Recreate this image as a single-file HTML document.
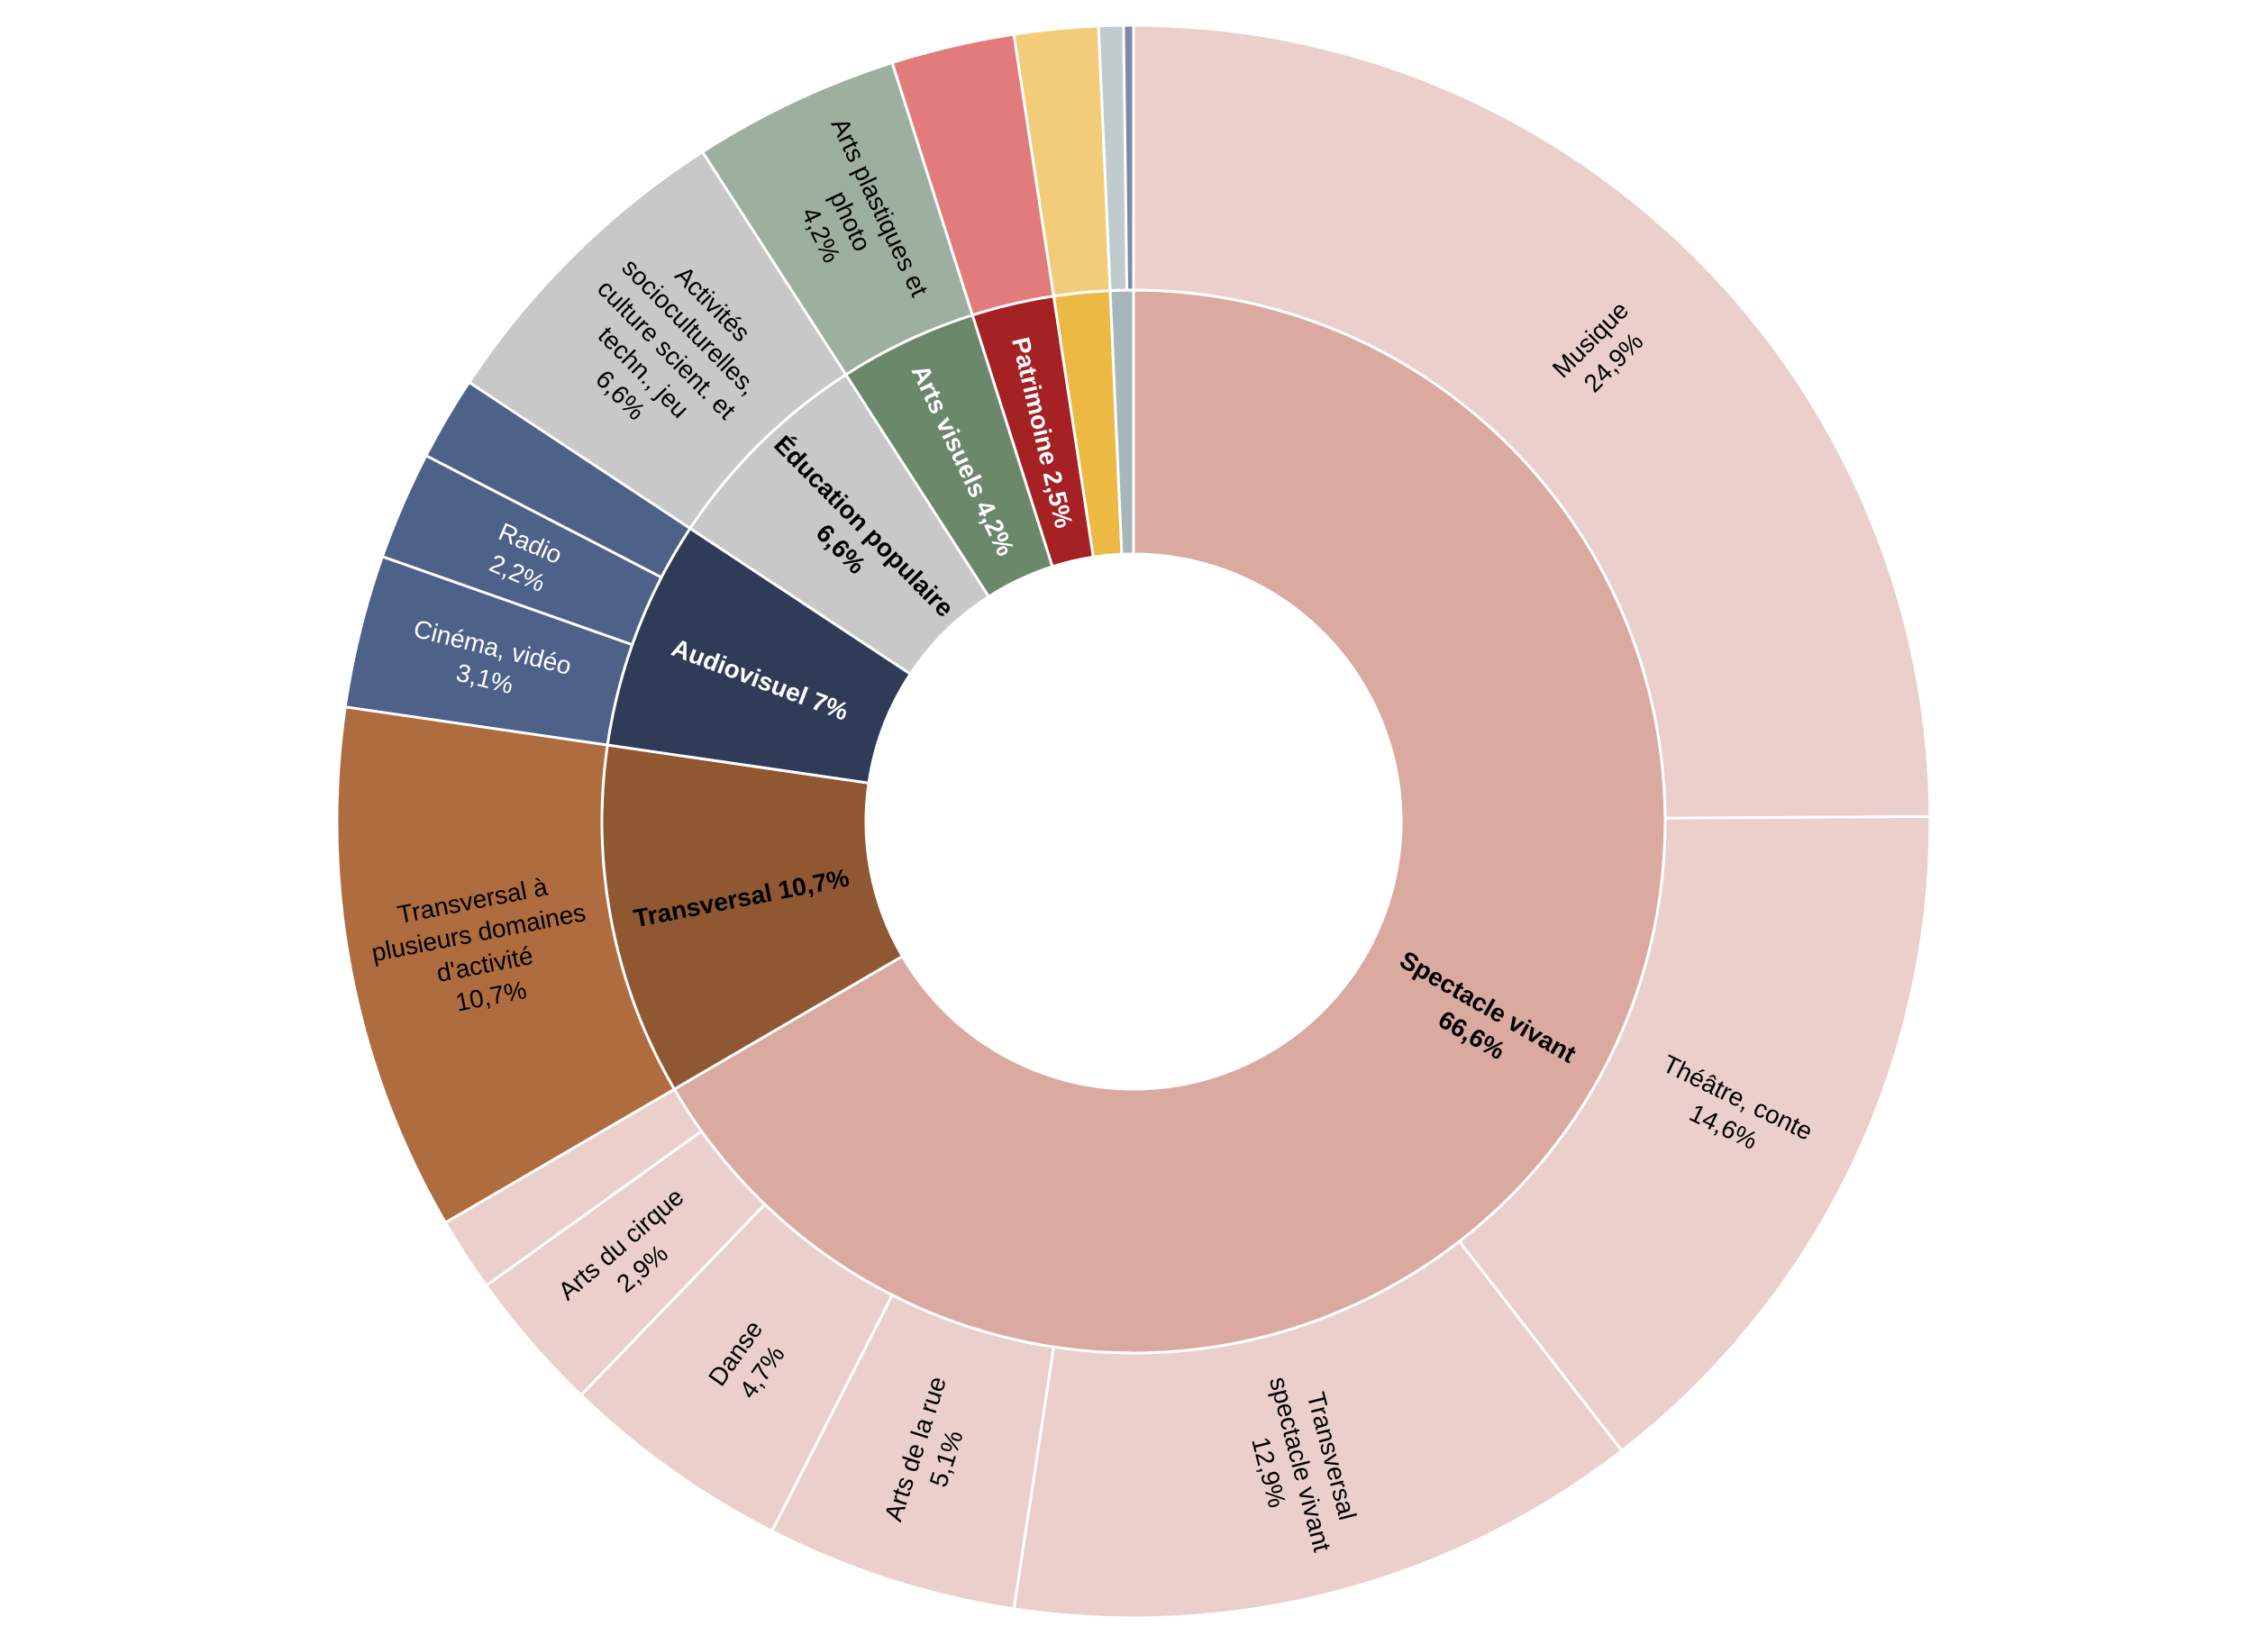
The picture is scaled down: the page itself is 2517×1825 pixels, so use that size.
<!DOCTYPE html>
<html><head><meta charset="utf-8"><style>
html,body{margin:0;padding:0;background:#fff;}
svg{display:block;}
text{font-family:"Liberation Sans","DejaVu Sans",sans-serif;}
</style></head>
<body>
<svg id="chart" width="2517" height="1825" viewBox="0 0 2517 1825" xmlns="http://www.w3.org/2000/svg">
<g id="inner"></g>
<g id="outer"></g>
<g id="labels"></g>
</svg>
<script>
// Inner ring (domains)
const innerNames = ["Spectacle vivant","Transversal","Audiovisuel","Éducation populaire","Arts visuels","Patrimoine","Autre 1","Autre 2"];
const innerValues = [66.6,10.7,7.0,6.6,4.2,2.5,1.7,0.7];
const innerLabels = [["Spectacle vivant","66,6%"],["Transversal 10,7%"],["Audiovisuel 7%"],["Éducation populaire","6,6%"],["Arts visuels 4,2%"],["Patrimoine 2,5%"],[],[]];
const innerColors = ["#DAAAA1","#8F5833","#303C57","#C8C8C8","#6B876C","#A52124","#EBB944","#A6B6BB"];
const innerTextColors = ["#000","#000","#fff","#000","#fff","#fff","#000","#000"];
// Outer ring (sub-domains)
const outerNames = ["Musique","Théâtre, conte","Transversal spectacle vivant","Arts de la rue","Danse","Arts du cirque","Autre spectacle","Transversal à plusieurs domaines","Cinéma, vidéo","Radio","Autre audiovisuel","Activités socioculturelles","Arts plastiques et photo","Patrimoine","Autre 1","Autre 2a","Autre 2b"];
const outerValues = [24.9,14.6,12.9,5.1,4.7,2.9,1.5,10.7,3.1,2.2,1.7,6.6,4.2,2.5,1.7,0.5,0.2];
const outerLabels = [["Musique","24,9%"],["Théâtre, conte","14,6%"],["Transversal","spectacle vivant","12,9%"],["Arts de la rue","5,1%"],["Danse","4,7%"],["Arts du cirque","2,9%"],[],["Transversal à","plusieurs domaines","d'activité","10,7%"],["Cinéma, vidéo","3,1%"],["Radio","2,2%"],[],["Activités","socioculturelles,","culture scient. et","techn., jeu","6,6%"],["Arts plastiques et","photo","4,2%"],[],[],[],[]];
const outerColors = ["#EBCFCB","#EBCFCB","#EBCFCB","#EBCFCB","#EBCFCB","#EBCFCB","#EBCFCB","#AE6C3F","#4E6189","#4E6189","#4E6189","#C8C8C8","#9DAF9E","#E27C7C","#F2CC78","#BFCBCD","#8089A8"];
const outerTextColors = ["#000","#000","#000","#000","#000","#000","#000","#000","#fff","#fff","#fff","#000","#000","#000","#000","#000","#000"];

const CX=1258, CY=912, R0=297, R1=590, R2=884;
const NS="http://www.w3.org/2000/svg";
function angleOf(pct){return pct/100*2*Math.PI;}
function pt(r,a){return [CX+r*Math.sin(a), CY-r*Math.cos(a)];}
function arcPath(r0,r1,a0,a1){
  const large=(a1-a0)>Math.PI?1:0;
  const p1=pt(r1,a0),p2=pt(r1,a1),p3=pt(r0,a1),p4=pt(r0,a0);
  return `M${p1[0]},${p1[1]} A${r1},${r1} 0 ${large} 1 ${p2[0]},${p2[1]} L${p3[0]},${p3[1]} A${r0},${r0} 0 ${large} 0 ${p4[0]},${p4[1]} Z`;
}
function drawRing(gid,names,values,colors,r0,r1,labels,tcols,bold){
  const g=document.getElementById(gid), lg=document.getElementById('labels');
  let cum=0;
  values.forEach((v,i)=>{
    const a0=angleOf(cum), a1=angleOf(cum+v);
    const p=document.createElementNS(NS,'path');
    p.setAttribute('d',arcPath(r0,r1,a0,a1));
    p.setAttribute('fill',colors[i]);
    p.setAttribute('stroke','#fff');
    p.setAttribute('stroke-width','3');
    
    
    g.appendChild(p);
    const lines=labels[i];
    if(lines.length){
      const am=(a0+a1)/2, deg=am*180/Math.PI;
      const rm=(r0+r1)/2;
      const c=pt(rm,am);
      const rot = deg<180 ? deg-90 : deg-270;
      const t=document.createElementNS(NS,'text');
      
      
      t.setAttribute('text-anchor','middle');
      t.setAttribute('font-size','28');
      if(bold) t.setAttribute('font-weight','bold');
      t.setAttribute('fill',tcols[i]);
      t.setAttribute('transform',`translate(${c[0]},${c[1]}) rotate(${rot})`);
      const lh=36, start=-(lines.length-1)*lh/2+10;
      lines.forEach((ln,j)=>{
        const ts=document.createElementNS(NS,'tspan');
        ts.setAttribute('x','0');
        ts.setAttribute('y',String(start+j*lh));
        ts.textContent=ln;
        t.appendChild(ts);
      });
      lg.appendChild(t);
    }
    cum+=v;
  });
}
drawRing('inner',innerNames,innerValues,innerColors,R0,R1,innerLabels,innerTextColors,true);
drawRing('outer',outerNames,outerValues,outerColors,R1,R2,outerLabels,outerTextColors,false);
</script>
</body></html>
